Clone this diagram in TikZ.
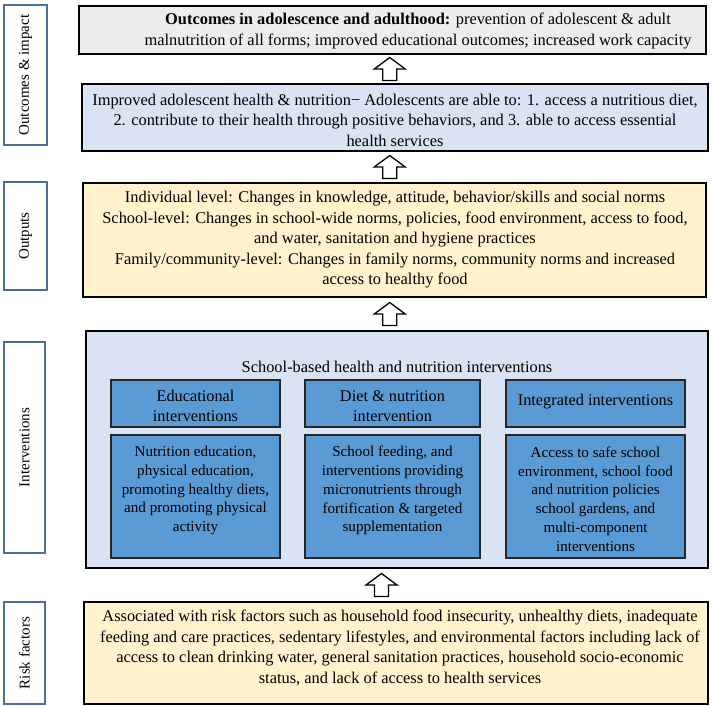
\documentclass[tikz,border=0pt]{standalone}
\usepackage{fontspec}
\setmainfont{Liberation Serif}
\usetikzlibrary{calc}
\definecolor{grayfill}{HTML}{EDEDED}
\definecolor{bluefill}{HTML}{DAE3F3}
\definecolor{yellowfill}{HTML}{FFF2CC}
\definecolor{innerblue}{HTML}{5B9BD5}
\definecolor{labelblue}{HTML}{4A6F9B}
\begin{document}
\begin{tikzpicture}[x=1pt,y=-1pt,
  mainbox/.style={draw=black, line width=1.5pt, inner sep=0pt},
  innerbox/.style={draw=black!85, line width=1.5pt, fill=innerblue, inner sep=0pt},
  lbl/.style={draw=labelblue, line width=1.4pt, fill=white, inner sep=0pt},
  txt/.style={align=center, inner sep=0pt, font=\fontsize{16.4}{20.5}\selectfont},
  ltxt/.style={align=center, inner sep=0pt, font=\fontsize{15}{18}\selectfont},
  ttxt/.style={align=center, inner sep=0pt, font=\fontsize{16.3}{20}\selectfont},
  itxt/.style={align=center, inner sep=0pt, font=\fontsize{15.1}{18.8}\selectfont},
  uparrow/.pic={\draw[line width=1.3pt, fill=white, line join=miter]
     (-7,11.5) -- (-7,0) -- (-15.5,0) -- (0,-11.5) -- (15.5,0) -- (7,0) -- (7,11.5) -- cycle;}
]
\useasboundingbox (0,0) rectangle (712,706);

% main boxes
\node[mainbox, fill=grayfill, minimum width=627pt, minimum height=48pt] (b1) at (392.5,30) {};
\node[mainbox, fill=bluefill, minimum width=626pt, minimum height=67pt] (b2) at (395,117.5) {};
\node[mainbox, fill=yellowfill, minimum width=623pt, minimum height=114pt] (b3) at (394.5,240) {};
\node[mainbox, fill=bluefill, minimum width=622pt, minimum height=237pt] (b4) at (397,449.5) {};
\node[mainbox, fill=yellowfill, minimum width=624pt, minimum height=102pt] (b5) at (396,653) {};

% inner boxes
\node[innerbox, minimum width=169pt, minimum height=47pt] (e1) at (195.5,403.5) {};
\node[innerbox, minimum width=175pt, minimum height=47pt] (d1) at (392.5,403.5) {};
\node[innerbox, minimum width=179pt, minimum height=47pt] (g1) at (595.5,403.5) {};
\node[innerbox, minimum width=169pt, minimum height=123pt] (e2) at (195.5,496.5) {};
\node[innerbox, minimum width=175pt, minimum height=123pt] (d2) at (392.5,496.5) {};
\node[innerbox, minimum width=179pt, minimum height=123pt] (g2) at (595.5,496.5) {};

% side labels
\node[lbl, minimum width=43pt, minimum height=140pt] (l1) at (25.5,75) {};
\node[lbl, minimum width=43pt, minimum height=108pt] (l2) at (25.5,236) {};
\node[lbl, minimum width=41pt, minimum height=211pt] (l3) at (24.5,447.5) {};
\node[lbl, minimum width=41pt, minimum height=102pt] (l4) at (24.5,653) {};
\node[ltxt, rotate=90] (l1t) at (l1) {Outcomes \& impact};
\node[ltxt, rotate=90] (l2t) at (l2) {Outputs};
\node[ltxt, rotate=90] (l3t) at (l3) {Interventions};
\node[ltxt, rotate=90] (l4t) at (l4) {Risk factors};

% texts
\node[txt] (t1) at (418,31) {\textbf{Outcomes in adolescence and adulthood:} prevention of adolescent \& adult\\malnutrition of all forms; improved educational outcomes; increased work capacity};
\node[txt] (t2) at (395,120) {Improved adolescent health \& nutrition− Adolescents are able to: 1. access a nutritious diet,\\2. contribute to their health through positive behaviors, and 3. able to access essential\\health services};
\node[txt] (t3) at (395,240) {Individual level: Changes in knowledge, attitude, behavior/skills and social norms\\School-level: Changes in school-wide norms, policies, food environment, access to food,\\and water, sanitation and hygiene practices\\Family/community-level: Changes in family norms, community norms and increased\\access to healthy food};
\node[txt] (t4) at (397,367) {School-based health and nutrition interventions};
\node[ttxt] (e1t) at (195.5,406) {Educational\\interventions};
\node[ttxt] (d1t) at (392.5,406) {Diet \& nutrition\\intervention};
\node[ttxt] (g1t) at (595.5,402) {Integrated interventions};
\node[itxt] (e2t) at (195.5,490.5) {Nutrition education,\\physical education,\\promoting healthy diets,\\and promoting physical\\activity};
\node[itxt] (d2t) at (392.5,490.5) {School feeding, and\\interventions providing\\micronutrients through\\fortification \& targeted\\supplementation};
\node[itxt] (g2t) at (595.5,499) {Access to safe school\\environment, school food\\and nutrition policies\\school gardens, and\\multi-component\\interventions};
\node[txt] (t5) at (400,648) {Associated with risk factors such as household food insecurity, unhealthy diets, inadequate\\feeding and care practices, sedentary lifestyles, and environmental factors including lack of\\access to clean drinking water, general sanitation practices, household socio-economic\\status, and lack of access to health services};

% block arrows
\pic at ($(b1.south)!0.5!(b2.north)+(-4,0)$) {uparrow};
\pic at ($(b2.south)!0.5!(b3.north)+(-5,0)$) {uparrow};
\pic at ($(b3.south)!0.5!(b4.north)+(-6,0)$) {uparrow};
\pic at ($(b4.south)!0.5!(b5.north)+(-15,0)$) {uparrow};
\end{tikzpicture}
\end{document}
